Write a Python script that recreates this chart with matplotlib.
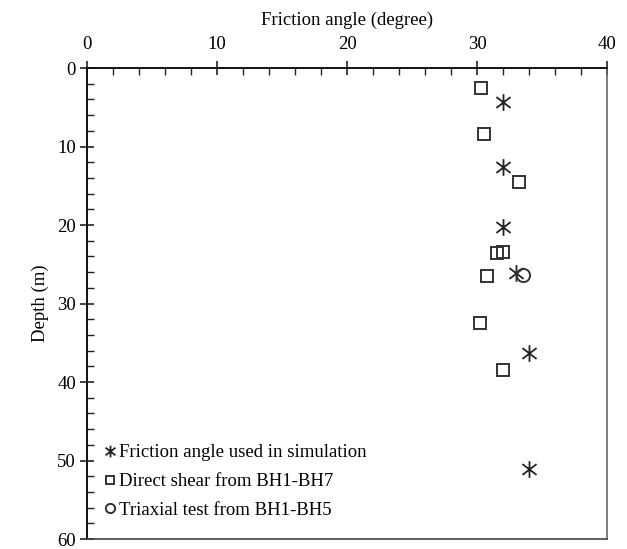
import numpy as np
import matplotlib
matplotlib.use("Agg")
import matplotlib.pyplot as plt
from matplotlib.ticker import MultipleLocator
from matplotlib.path import Path

plt.rcParams['font.family'] = ['Liberation Serif', 'DejaVu Serif']
plt.rcParams['font.size'] = 13.5

# friction angle used in simulation
sim_angle = [32.0, 32.0, 32.0, 33.0, 34.0, 34.0]
sim_depth = [4.3, 12.6, 20.3, 26.1, 36.3, 51.1]

# direct shear from BH1-BH7
ds_angle = [30.3, 30.5, 33.2, 31.5, 32.0, 30.8, 30.2, 32.0]
ds_depth = [2.5, 8.4, 14.5, 23.5, 23.4, 26.5, 32.5, 38.5]

# triaxial test from BH1-BH5
tx_angle = [33.5]
tx_depth = [26.4]

# asterisk: vertical bar plus an X
ast = Path([(0, -1), (0, 1), (-0.85, -0.65), (0.85, 0.65), (-0.85, 0.65), (0.85, -0.65)],
           [Path.MOVETO, Path.LINETO, Path.MOVETO, Path.LINETO, Path.MOVETO, Path.LINETO])

fig = plt.figure(figsize=(6.27, 5.49), dpi=100)
ax = fig.add_axes([0.1388, 0.0182, 0.8294, 0.8578])

ax.plot(sim_angle, sim_depth, ls='none', marker=ast, ms=12, mew=1.3, color='#222222',
        label='Friction angle used in simulation')
ax.plot(ds_angle, ds_depth, ls='none', marker='s', ms=9, mew=1.4, mfc='none', mec='#333333',
        label='Direct shear from BH1-BH7')
ax.plot(tx_angle, tx_depth, ls='none', marker='o', ms=9.5, mew=1.4, mfc='none', mec='#333333',
        label='Triaxial test from BH1-BH5')

ax.set_xlim(0, 40)
ax.set_ylim(60, 0)
ax.xaxis.set_major_locator(MultipleLocator(10))
ax.xaxis.set_minor_locator(MultipleLocator(2))
ax.yaxis.set_major_locator(MultipleLocator(10))
ax.yaxis.set_minor_locator(MultipleLocator(2))
ax.xaxis.tick_top()
ax.xaxis.set_label_position('top')
ax.tick_params(which='major', direction='inout', length=10, width=1.2, color='#222222',
               top=True, bottom=False, left=True, right=False)
ax.tick_params(which='minor', direction='in', length=5, width=1.0, color='#222222',
               top=True, bottom=False, left=True, right=False)
ax.tick_params(axis='x', pad=6)
ax.tick_params(axis='y', pad=3)

ax.set_xlabel('Friction angle (degree)', labelpad=8)
ax.set_ylabel('Depth (m)', labelpad=6)

ax.spines['top'].set_linewidth(1.4)
ax.spines['left'].set_linewidth(1.4)
ax.spines['top'].set_color('#111111')
ax.spines['left'].set_color('#111111')
ax.spines['right'].set_color('#666666')
ax.spines['bottom'].set_color('#444444')
ax.spines['right'].set_linewidth(1.2)
ax.spines['bottom'].set_linewidth(1.2)

leg = ax.legend(loc='lower left', bbox_to_anchor=(0.0, 0.007), frameon=False,
                handlelength=0.6, handletextpad=0.2, labelspacing=0.62,
                markerscale=0.7, fontsize=13.5, borderaxespad=0.5)

fig.savefig('out.png', dpi=100)
